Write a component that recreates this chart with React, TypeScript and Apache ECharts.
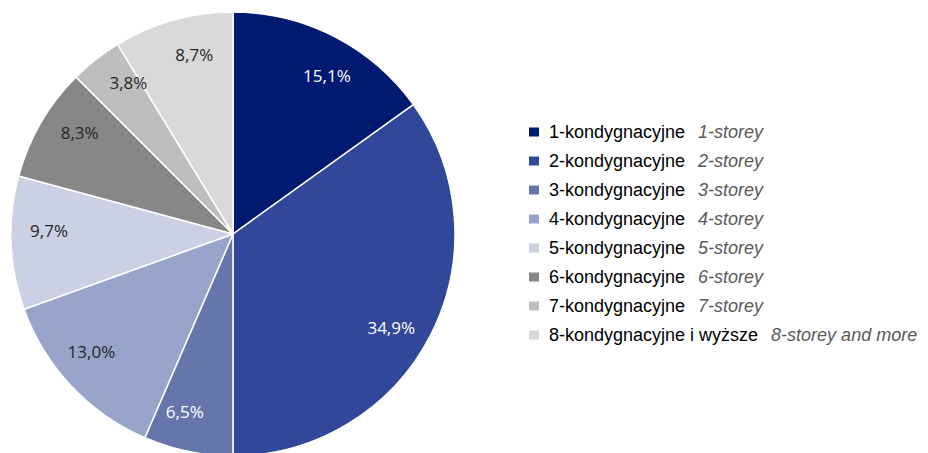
import React, { useEffect, useRef } from "react";
import * as echarts from "echarts";

const categoriesPl = [
  "1-kondygnacyjne",
  "2-kondygnacyjne",
  "3-kondygnacyjne",
  "4-kondygnacyjne",
  "5-kondygnacyjne",
  "6-kondygnacyjne",
  "7-kondygnacyjne",
  "8-kondygnacyjne i wyższe",
];
const categoriesEn = [
  "1-storey",
  "2-storey",
  "3-storey",
  "4-storey",
  "5-storey",
  "6-storey",
  "7-storey",
  "8-storey and more",
];
const values = [15.1, 34.9, 6.5, 13.0, 9.7, 8.3, 3.8, 8.7];
const colors = ["#001a72", "#30479a", "#6676ad", "#99a4ca", "#cbd0e4", "#878787", "#bebebe", "#d9d9d9"];
const labelColors = ["#ffffff", "#ffffff", "#ffffff", "#262626", "#262626", "#262626", "#262626", "#262626"];

export default function App() {
  const ref = useRef<HTMLDivElement>(null);
  useEffect(() => {
    if (!ref.current) return;
    const chart = echarts.init(ref.current, null, { renderer: "svg" });
    const enMap: Record<string, string> = {};
    categoriesPl.forEach((n, i) => (enMap[n] = categoriesEn[i]));
    chart.setOption({
      animation: false,
      backgroundColor: "#ffffff",
      legend: {
        orient: "vertical",
        left: 527,
        top: 123,
        padding: 0,
        icon: "rect",
        itemWidth: 12,
        itemHeight: 11,
        itemGap: 11,
        selectedMode: false,
        data: categoriesPl,
        formatter: (name: string) => `{a|${name}}{b|${enMap[name]}}`,
        textStyle: {
          rich: {
            a: {
              fontFamily: "Liberation Sans, Arial, sans-serif",
              fontSize: 18,
              color: "#000000",
              lineHeight: 18,
              padding: [0, 0, 0, 4],
            },
            b: {
              fontFamily: "Liberation Sans, Arial, sans-serif",
              fontSize: 18,
              fontStyle: "italic",
              color: "#595959",
              lineHeight: 18,
              padding: [0, 0, 0, 13],
            },
          },
        },
      },
      series: [
        {
          type: "pie",
          center: [233, 234],
          radius: [0, 222],
          startAngle: 90,
          clockwise: true,
          silent: true,
          label: { show: false },
          labelLine: { show: false },
          itemStyle: { borderColor: "#ffffff", borderWidth: 1.5 },
          data: categoriesPl.map((n, i) => ({
            name: n,
            value: values[i],
            itemStyle: { color: colors[i] },
          })),
        },
        {
          type: "pie",
          center: [233, 234],
          radius: [140, 222],
          startAngle: 86.5,
          clockwise: true,
          silent: true,
          labelLine: { show: false },
          itemStyle: { color: "rgba(0,0,0,0)", borderWidth: 0 },
          label: {
            show: true,
            position: "inside",
            fontFamily: "Open Sans, Noto Sans, sans-serif",
            fontSize: 17,
            formatter: (p: any) => p.value.toFixed(1).replace(".", ",") + "%",
          },
          data: categoriesPl.map((n, i) => ({
            name: n,
            value: values[i],
            label: { color: labelColors[i] },
          })),
        },
      ],
    });
    return () => chart.dispose();
  }, []);
  return (
    <div
      ref={ref}
      style={{ position: "fixed", left: 0, top: 0, width: 928, height: 453 }}
    />
  );
}
